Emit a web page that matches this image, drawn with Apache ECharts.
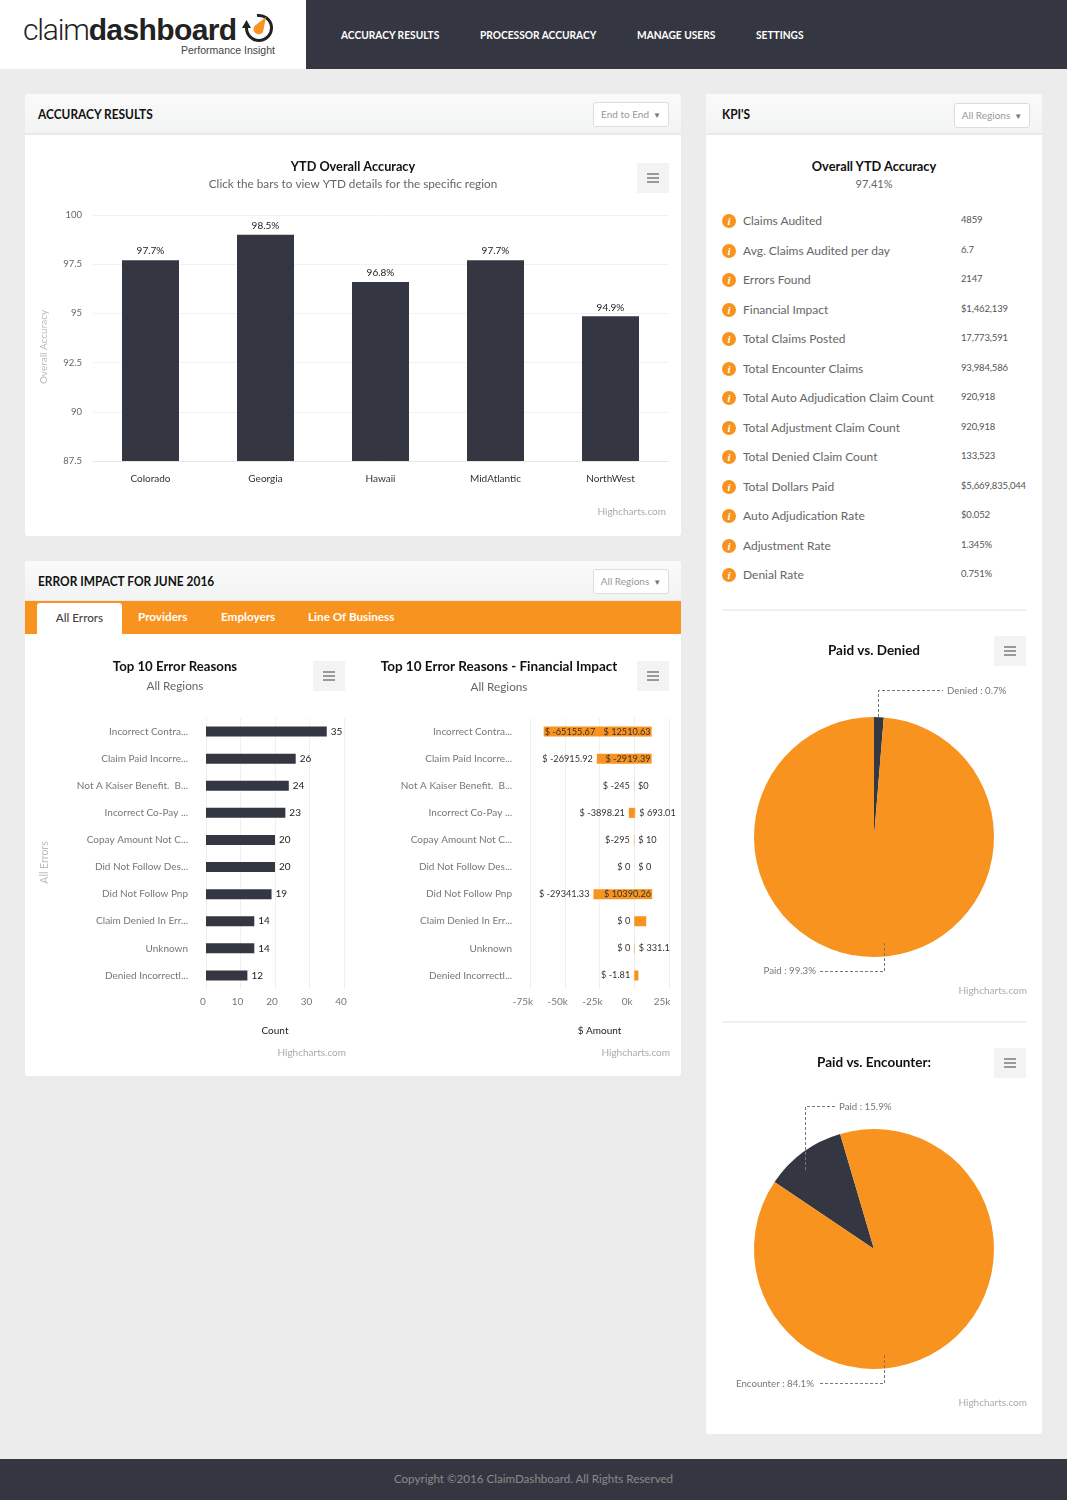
<!DOCTYPE html>
<html>
<head>
<meta charset="utf-8">
<title>ClaimDashboard</title>
<script src="https://cdn.jsdelivr.net/npm/echarts@6/dist/echarts.min.js"></script>
<style>
  * { box-sizing: border-box; }
  html, body { margin: 0; padding: 0; }
  body { width: 1067px; height: 1500px; position: relative; background: #ececec; overflow: hidden;
         font-family: Lato, "Open Sans", sans-serif; color: #111; }
  .abs { position: absolute; }
  .logoBox { left: 0; top: 0; width: 306px; height: 69px; background: #fff; }
  .nav { left: 306px; top: 0; width: 761px; height: 69px; background: #343741; }
  .nav span { position: absolute; top: 28px; color: #fff; font-size: 12px; font-weight: 700; line-height: 14px; white-space: nowrap; transform: scaleX(.85); transform-origin: left; }
  .card { background: #fff; border-radius: 3px; }
  .cardHead { left: 0; top: 0; right: 0; height: 41px; background: linear-gradient(#fafafa, #f2f3f3); border-bottom: 2px solid #e9e9e9; border-radius: 3px 3px 0 0; }
  .cardTitle { position: absolute; top: 12px; font-size: 14px; font-weight: 700; line-height: 16px; white-space: nowrap; transform: scaleX(.85); transform-origin: left; }
  .drop { position: absolute; width: 76px; height: 25px; background: #fff; border: 1px solid #ddd; border-radius: 3px; color: #999; font-size: 10px; line-height: 22px; text-align: center; white-space: nowrap; }
  .drop i { font-style: normal; font-size: 8px; margin-left: 4px; color: #777; }
  .tabs { left: 0; top: 40px; right: 0; height: 33px; background: #f7931e; }
  .tabs span { position: absolute; top: 8px; color: #fff; font-size: 11.7px; font-weight: 700; line-height: 14px; }
  .tabs .active { left: 12px; top: 2px; width: 85px; height: 31px; background: #fff; color: #444; text-align: center; line-height: 29px; border-radius: 3px 3px 0 0; font-weight: 500; }
  .menuBtn { position: absolute; width: 32px; height: 30px; background: #f3f3f3; }
  .menuBtn b { position: absolute; left: 10px; width: 12px; height: 1.5px; background: #999; }
  .kpiHead { left: 0; top: 0; width: 336px; text-align: center; }
  .kpiRow { position: absolute; left: 0; width: 336px; height: 16px; }
  .kpiIcon { position: absolute; left: 16px; top: 1px; width: 14px; height: 14px; border-radius: 50%; background: #f7931e; color: #fff; font: italic 700 11px/14px "Liberation Serif", serif; text-align: center; }
  .kpiName { position: absolute; left: 37px; top: 0; font-size: 12px; line-height: 16px; color: #666; white-space: nowrap; }
  .kpiVal { position: absolute; left: 255px; top: -1px; font-size: 9.5px; letter-spacing: -.15px; line-height: 15px; color: #555; white-space: nowrap; }
  .rule { position: absolute; left: 16px; width: 304px; height: 2px; background: #f0f0f0; }
  .foot { left: 0; top: 1459px; width: 1067px; height: 41px; background: #343741; color: #8a8a8a; font-size: 11.6px; line-height: 40px; text-align: center; }
  .credit { position: absolute; font-size: 10px; line-height: 12px; color: #aaa; white-space: nowrap; }
</style>
</head>
<body>
<div class="abs logoBox">
  <div class="abs" style="left:23px;top:11px;font:300 30px/38px Roboto,sans-serif;letter-spacing:-1.2px;color:#222;white-space:nowrap">claim<b style="font:700 30px/38px 'Liberation Sans',sans-serif;letter-spacing:-.6px">dashboard</b></div>
  <svg class="abs" style="left:241px;top:11px" width="36" height="34" viewBox="0 0 36 34">
    <path d="M16 4.6 A12.5 12.5 0 1 1 5.5 17" fill="none" stroke="#222" stroke-width="3"/>
    <path d="M5.5 9 L1 17 L10 17 Z" fill="#222"/>
    <path d="M25 6 L22 21 A5 5 0 1 1 13.5 15 Z" fill="#f7931e"/>
  </svg>
  <div class="abs" style="left:181px;top:44px;font:10.5px/13px 'Liberation Sans',sans-serif;color:#444;white-space:nowrap">Performance Insight</div>
</div>
<div class="abs nav">
  <span style="left:35px">ACCURACY RESULTS</span>
  <span style="left:174px">PROCESSOR ACCURACY</span>
  <span style="left:331px">MANAGE USERS</span>
  <span style="left:450px">SETTINGS</span>
</div>

<div class="abs card" style="left:25px;top:94px;width:656px;height:442px">
  <div class="abs cardHead"><span class="cardTitle" style="left:13px">ACCURACY RESULTS</span><span class="drop" style="left:568px;top:8px">End to End<i>▼</i></span></div>
</div>
<div class="abs card" style="left:25px;top:561px;width:656px;height:515px">
  <div class="abs cardHead"><span class="cardTitle" style="left:13px">ERROR IMPACT FOR JUNE 2016</span><span class="drop" style="left:568px;top:8px">All Regions<i>▼</i></span></div>
  <div class="abs tabs">
    <span class="active">All Errors</span>
    <span style="left:113px">Providers</span>
    <span style="left:196px">Employers</span>
    <span style="left:283px">Line Of Business</span>
  </div>
</div>
<div class="abs card" id="kpiCard" style="left:706px;top:94px;width:336px;height:1340px">
  <div class="abs cardHead"><span class="cardTitle" style="left:16px">KPI'S</span><span class="drop" style="left:248px;top:9px">All Regions<i>▼</i></span></div>
  <div class="abs kpiHead" style="top:64px;font-size:12.8px;font-weight:700;line-height:16px">Overall YTD Accuracy</div>
  <div class="abs kpiHead" id="kpiOverall" style="top:83px;font-size:11px;line-height:14px;color:#666"></div>
  <div class="rule" style="top:515px"></div>
  <div class="rule" style="top:927px"></div>
</div>

<div class="abs" id="accuracyChart" style="left:25px;top:135px;width:656px;height:400px"></div>
<div class="abs" id="errorChart" style="left:25px;top:640px;width:330px;height:435px"></div>
<div class="abs" id="impactChart" style="left:355px;top:640px;width:326px;height:435px"></div>
<div class="abs" id="deniedChart" style="left:706px;top:620px;width:336px;height:400px"></div>
<div class="abs" id="encounterChart" style="left:706px;top:1032px;width:336px;height:400px"></div>

<div class="menuBtn" style="left:637px;top:163px"><b style="top:10px"></b><b style="top:14px"></b><b style="top:18px"></b></div>
<div class="menuBtn" style="left:313px;top:661px"><b style="top:10px"></b><b style="top:14px"></b><b style="top:18px"></b></div>
<div class="menuBtn" style="left:637px;top:661px"><b style="top:10px"></b><b style="top:14px"></b><b style="top:18px"></b></div>
<div class="menuBtn" style="left:994px;top:636px"><b style="top:10px"></b><b style="top:14px"></b><b style="top:18px"></b></div>
<div class="menuBtn" style="left:994px;top:1048px"><b style="top:10px"></b><b style="top:14px"></b><b style="top:18px"></b></div>

<span class="credit" style="right:401px;top:505px">Highcharts.com</span>
<span class="credit" style="right:721px;top:1046px">Highcharts.com</span>
<span class="credit" style="right:397px;top:1046px">Highcharts.com</span>
<span class="credit" style="right:40px;top:984px">Highcharts.com</span>
<span class="credit" style="right:40px;top:1396px">Highcharts.com</span>

<div class="abs foot">Copyright ©2016 ClaimDashboard. All Rights Reserved</div>

<script>
var FONT = 'Lato, "Open Sans", sans-serif';
var DARK = '#343741';
var ORANGE = '#f7931e';

// accuracy bars
var regions = ['Colorado', 'Georgia', 'Hawaii', 'MidAtlantic', 'NorthWest'];
var accuracyValues = [97.7, 99, 96.6, 97.7, 94.85];
var accuracyLabels = ['97.7%', '98.5%', '96.8%', '97.7%', '94.9%'];

// error reasons
var reasons = ['Incorrect Contra...', 'Claim Paid Incorre...', 'Not A Kaiser Benefit.  B...', 'Incorrect Co-Pay ...',
  'Copay Amount Not C...', 'Did Not Follow Des...', 'Did Not Follow Pnp', 'Claim Denied In Err...', 'Unknown', 'Denied Incorrectl...'];
var errorCounts = [35, 26, 24, 23, 20, 20, 19, 14, 14, 12];

// financial impact, drawn bars and printed labels do not always agree in the source
var impactNeg = [-65155.67, -26915.92, -245, -3898.21, -295, 0, -29341.33, 0, 0, -1.81];
var impactPos = [12510.63, 12500, 0, 693.01, 10, 0, 12900, 8600, 331.1, 3000];
var impactNegLabels = ['$ -65155.67', '$ -26915.92', '$ -245', '$ -3898.21', '$-295', '$ 0', '$ -29341.33', '$ 0', '$ 0', '$ -1.81'];
var impactPosLabels = ['$ 12510.63', '$ -2919.39', '$0', '$ 693.01', '$ 10', '$ 0', '$ 10390.26', '', '$ 331.1', ''];

// kpi list
var kpiOverall = '97.41%';
var kpiNames = ['Claims Audited', 'Avg. Claims Audited per day', 'Errors Found', 'Financial Impact', 'Total Claims Posted',
  'Total Encounter Claims', 'Total Auto Adjudication Claim Count', 'Total Adjustment Claim Count', 'Total Denied Claim Count',
  'Total Dollars Paid', 'Auto Adjudication Rate', 'Adjustment Rate', 'Denial Rate'];
var kpiValues = ['4859', '6.7', '2147', '$1,462,139', '17,773,591', '93,984,586', '920,918', '920,918', '133,523',
  '$5,669,835,044', '$0.052', '1.345%', '0.751%'];

// pies, slice sizes as drawn
var deniedNames = ['Denied', 'Paid'];
var deniedValues = [1.3, 98.7];
var deniedLabels = ['Denied : 0.7%', 'Paid : 99.3%'];
var encounterNames = ['Paid', 'Encounter'];
var encounterValues = [11, 89];
var encounterLabels = ['Paid : 15.9%', 'Encounter : 84.1%'];

var kpiCard = document.getElementById('kpiCard');
document.getElementById('kpiOverall').textContent = kpiOverall;
kpiNames.forEach(function (name, i) {
  var row = document.createElement('div');
  row.className = 'kpiRow';
  row.style.top = (119 + i * 29.5) + 'px';
  row.innerHTML = '<span class="kpiIcon">i</span><span class="kpiName">' + name + '</span><span class="kpiVal">' + kpiValues[i] + '</span>';
  kpiCard.appendChild(row);
});

function titleOpt(text, sub, left, top, size, gap) {
  return {
    text: text, subtext: sub, left: left, top: top, textAlign: 'center', itemGap: gap, padding: 0,
    textStyle: { fontFamily: FONT, fontSize: size, fontWeight: 700, color: '#111' },
    subtextStyle: { fontFamily: FONT, fontSize: 11.75, color: '#666' }
  };
}

var accuracyChart = echarts.init(document.getElementById('accuracyChart'));
accuracyChart.setOption({
  animation: false,
  title: titleOpt('YTD Overall Accuracy', 'Click the bars to view YTD details for the specific region', 328, 25, 12.7, 5),
  grid: { left: 68, right: 13, top: 80, bottom: 74 },
  xAxis: {
    type: 'category', data: regions,
    axisLine: { lineStyle: { color: '#e6e6e6' } },
    axisTick: { length: 10, lineStyle: { color: '#e6e6e6' } },
    axisLabel: { fontFamily: FONT, fontSize: 10, color: '#333', margin: 13 }
  },
  yAxis: {
    type: 'value', min: 87.5, max: 100, interval: 2.5,
    name: 'Overall Accuracy', nameLocation: 'middle', nameGap: 44,
    nameTextStyle: { fontFamily: FONT, fontSize: 10, color: '#bbb', padding: [0, 18, 0, 0] },
    axisLine: { show: false }, axisTick: { show: false },
    axisLabel: { fontFamily: FONT, fontSize: 9.5, color: '#666', margin: 11 },
    splitLine: { lineStyle: { color: '#f2f2f2' } }
  },
  series: [{
    type: 'bar', data: accuracyValues, barWidth: 57,
    itemStyle: { color: DARK },
    label: {
      show: true, position: 'top', distance: 4, fontFamily: FONT, fontSize: 10, color: '#222',
      formatter: function (p) { return accuracyLabels[p.dataIndex]; }
    }
  }]
});

function reasonAxis(nameGap, name) {
  return {
    type: 'category', data: reasons, inverse: true,
    name: name, nameLocation: 'middle', nameGap: nameGap,
    nameTextStyle: { fontFamily: FONT, fontSize: 10.5, color: '#bbb', padding: [0, 18, 0, 0] },
    axisLine: { lineStyle: { color: '#eee' } },
    axisTick: { length: 10, lineStyle: { color: '#eee' } },
    axisLabel: { fontFamily: FONT, fontSize: 10, color: '#777', margin: 18 }
  };
}

var errorChart = echarts.init(document.getElementById('errorChart'));
errorChart.setOption({
  animation: false,
  title: titleOpt('Top 10 Error Reasons', 'All Regions', 150, 20, 13.2, 7),
  grid: { left: 181, right: 11, top: 78, bottom: 86 },
  xAxis: {
    type: 'value', min: 0, max: 40, interval: 10,
    name: 'Count', nameLocation: 'middle', nameGap: 37,
    nameTextStyle: { fontFamily: FONT, fontSize: 10, color: '#222' },
    axisLine: { show: false }, axisTick: { show: false },
    axisLabel: { fontFamily: FONT, fontSize: 10, color: '#777', margin: 8, padding: [0, 6, 0, 0] },
    splitLine: { lineStyle: { color: '#f0f0f0' } }
  },
  yAxis: reasonAxis(156, 'All Errors'),
  series: [{
    type: 'bar', data: errorCounts, barWidth: 10,
    itemStyle: { color: DARK },
    label: { show: true, position: 'right', distance: 4, fontFamily: FONT, fontSize: 10, color: '#222' }
  }]
});

function impactItems(values, labels, placeAt) {
  return values.map(function (v, i) {
    var place = placeAt(i);
    return {
      value: v,
      label: { show: labels[i] !== '', position: place, distance: place.indexOf('inside') === 0 ? 1 : 4, formatter: labels[i] }
    };
  });
}

var impactChart = echarts.init(document.getElementById('impactChart'));
impactChart.setOption({
  animation: false,
  title: titleOpt('Top 10 Error Reasons - Financial Impact', 'All Regions', 144, 20, 13.5, 7),
  grid: { left: 175, right: 12, top: 78, bottom: 86 },
  xAxis: {
    type: 'value', min: -75000, max: 25000, interval: 25000,
    name: '$ Amount', nameLocation: 'middle', nameGap: 37,
    nameTextStyle: { fontFamily: FONT, fontSize: 10, color: '#222' },
    axisLine: { show: false }, axisTick: { show: false },
    axisLabel: {
      fontFamily: FONT, fontSize: 10, color: '#777', margin: 8, padding: [0, 14, 0, 0],
      formatter: function (v) { return (v / 1000) + 'k'; }
    },
    splitLine: { lineStyle: { color: '#f0f0f0' } }
  },
  yAxis: reasonAxis(0, ''),
  series: [{
    type: 'bar', stack: 'impact', barWidth: 10, itemStyle: { color: ORANGE },
    label: { fontFamily: FONT, fontSize: 9.2, color: '#333' },
    data: impactItems(impactNeg, impactNegLabels, function (i) { return i === 0 ? 'insideLeft' : 'left'; })
  }, {
    type: 'bar', stack: 'impact', barWidth: 10, itemStyle: { color: ORANGE },
    label: { fontFamily: FONT, fontSize: 9.2, color: '#333' },
    data: impactItems(impactPos, impactPosLabels, function (i) { return (i === 0 || i === 1 || i === 6) ? 'insideRight' : 'right'; })
  }]
});

// pies share the same setup, the elbow leaders are graphic polylines
function pieOption(title, names, values, labels, startAngle, labelPos, leaders) {
  return {
    animation: false,
    title: titleOpt(title, '', 168, 24, 13.5, 0),
    series: [{
      type: 'pie', center: [168, 217], radius: [0, 120], startAngle: startAngle, clockwise: true,
      data: names.map(function (n, i) {
        return { name: n, value: values[i], itemStyle: { color: i === 0 ? DARK : ORANGE } };
      }),
      label: {
        position: 'outside', width: 100, overflow: 'none', fontFamily: FONT, fontSize: 9.7, color: '#777',
        formatter: function (p) { return labels[p.dataIndex]; }
      },
      labelLine: { show: false },
      labelLayout: function (p) {
        var at = labelPos[p.dataIndex];
        return { x: at[0], y: at[1], align: at[2], verticalAlign: 'middle' };
      }
    }],
    graphic: leaders.map(function (pts) {
      return {
        type: 'polyline', z: 10, shape: { points: pts },
        style: { fill: null, stroke: '#777', lineWidth: 1, lineDash: [3, 2] }
      };
    })
  };
}

echarts.init(document.getElementById('deniedChart')).setOption(pieOption(
  'Paid vs. Denied', deniedNames, deniedValues, deniedLabels, 90,
  [[241, 71, 'left'], [110, 351, 'right']],
  [[[172.5, 97], [172.5, 70.5], [237, 70.5]], [[178.5, 323], [178.5, 351.5], [114, 351.5]]]
));
echarts.init(document.getElementById('encounterChart')).setOption(pieOption(
  'Paid vs. Encounter:', encounterNames, encounterValues, encounterLabels, 146,
  [[133, 75, 'left'], [108, 352, 'right']],
  [[[99.5, 138], [99.5, 74.5], [129, 74.5]], [[178.5, 323], [178.5, 351.5], [114, 351.5]]]
));
</script>
</body>
</html>
